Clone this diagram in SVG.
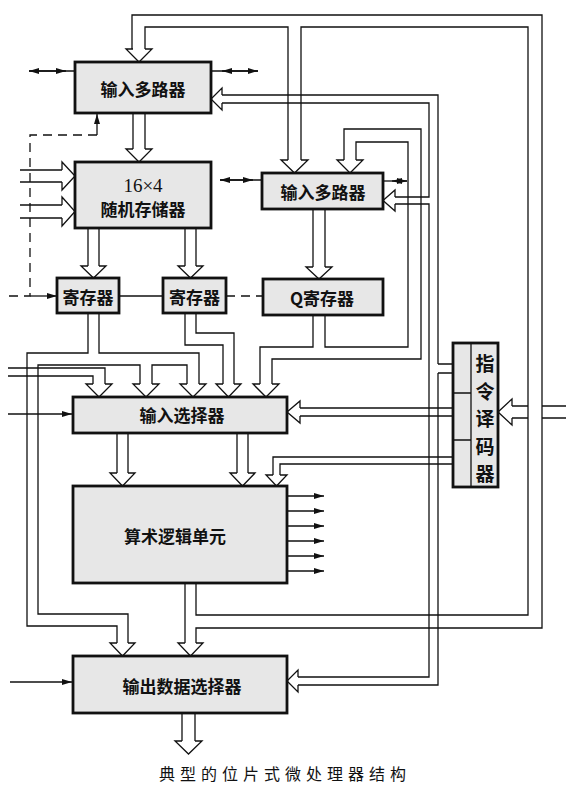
<svg xmlns="http://www.w3.org/2000/svg" width="574" height="800" viewBox="0 0 574 800">
<style>
.box{fill:#e7e7e7;stroke:#111;stroke-width:2.8}
.w{fill:none;stroke:#111;stroke-width:1.3}
.h{fill:#fff;stroke:#111;stroke-width:1.3;stroke-linejoin:miter}
.d{fill:none;stroke:#111;stroke-width:1.3;stroke-dasharray:9 6}
.t{font-family:"Noto Sans CJK SC","Noto Sans",sans-serif;font-size:17px;font-weight:bold;fill:#111;text-anchor:middle;dominant-baseline:central}
.v{font-family:"Noto Sans CJK SC","Noto Sans",sans-serif;font-size:19px;font-weight:bold;fill:#111;text-anchor:middle;dominant-baseline:central}
.s{font-family:"Liberation Serif",serif;font-size:19px;fill:#111;text-anchor:middle;dominant-baseline:central}
.cap{font-family:"Noto Sans CJK SC",sans-serif;font-size:16px;fill:#111;text-anchor:middle;dominant-baseline:central;letter-spacing:5px}
</style>
<defs>
<marker id="ah" markerUnits="userSpaceOnUse" markerWidth="10" markerHeight="6" refX="10" refY="3" orient="auto"><path d="M0,0 L10,3 L0,6 z" fill="#111"/></marker>
</defs>
<rect width="574" height="800" fill="#fff"/>

<g id="connectors">
<!-- ALU loop bus -->
<path class="w" d="M132 49 V15 H542 V628 H196 V643"/>
<path class="w" d="M145 49 V27 H288 V160"/>
<path class="w" d="M301 160 V27 H528 V615 H196 V583"/>
<path class="w" d="M185 583 V643"/>
<!-- top mux -> RAM -->
<path class="w" d="M133 113 V149 M145 113 V149"/>
<!-- RAM -> registers -->
<path class="w" d="M88 228 V266 M99 228 V266 M185 228 V266 M196 228 V266"/>
<!-- mux2 -> Q -->
<path class="w" d="M313 209 V267 M325 209 V267"/>
<!-- decoder top bus -->
<path class="w" d="M222 95 H438 V364 M438 373 V685 H298"/>
<path class="w" d="M222 103 H429 V197 H395 M395 204 H429 V677 H298"/>
<path class="w" d="M438 364 H453 M438 373 H453"/>
<!-- decoder -> input selector -->
<path class="w" d="M300 408 H453 M300 416 H453"/>
<!-- decoder -> ALU -->
<path class="w" d="M453 457 H273 V475 M453 464 H280 V475"/>
<!-- instruction input -->
<path class="w" d="M512 406 H528 M512 418 H528 M542 406 H566 M542 418 H566"/>
<!-- Q bus -->
<path class="w" d="M313 315 V347 H260 V384"/>
<path class="w" d="M325 315 V347 H408 V142 H356 V160"/>
<path class="w" d="M344 160 V129 H421 V359 H272 V384"/>
<!-- reg1 bus -->
<path class="w" d="M88 313 V353 H27 V626 H117 V643"/>
<path class="w" d="M99 313 V353 H199 V384"/>
<path class="w" d="M187 384 V365 H152 V384"/>
<path class="w" d="M140 384 V365 H38 V614 H128 V643"/>
<!-- reg2 bus -->
<path class="w" d="M185 313 V345 H223 V384"/>
<path class="w" d="M196 313 V333 H234 V384"/>
<!-- A1 from left -->
<path class="w" d="M8 368 H105 V384 M8 376 H93 V384"/>
<!-- input selector -> ALU -->
<path class="w" d="M117 433 V473 M128 433 V473 M237 433 V473 M248 433 V473"/>
<!-- output selector bottom -->
<path class="w" d="M182 713 V741 M195 713 V741"/>
<!-- RAM left inputs -->
<path class="w" d="M20 170 H62 M20 182 H62 M20 205 H62 M20 218 H62"/>

<!-- hollow heads -->
<path class="h" d="M133 49 H126 L139 62 L152 49 H145"/>
<path class="h" d="M133 149 H126 L139 162 L152 149 H145"/>
<path class="h" d="M88 266 H81 L93.5 278 L106 266 H99"/>
<path class="h" d="M185 266 H178 L190.5 278 L203 266 H196"/>
<path class="h" d="M288 160 H281 L294.5 173 L308 160 H301"/>
<path class="h" d="M344 160 H337 L350 173 L363 160 H356"/>
<path class="h" d="M313 267 H306 L319 279 L332 267 H325"/>
<path class="h" d="M93 384 H86 L99 397 L112 384 H105"/>
<path class="h" d="M140 384 H133 L146 397 L159 384 H152"/>
<path class="h" d="M187 384 H180 L193 397 L206 384 H199"/>
<path class="h" d="M223 384 H216 L228.5 397 L241 384 H234"/>
<path class="h" d="M260 384 H253 L266 397 L279 384 H272"/>
<path class="h" d="M117 473 H110 L122.5 486 L135 473 H128"/>
<path class="h" d="M237 473 H230 L242.5 486 L255 473 H248"/>
<path class="h" d="M273 475 H266 L276.5 486 L287 475 H280"/>
<path class="h" d="M117 643 H110 L122.5 656 L135 643 H128"/>
<path class="h" d="M185 643 H178 L190.5 656 L203 643 H196"/>
<path class="h" d="M182 741 H175 L188.5 754 L202 741 H195"/>
<path class="h" d="M222 95 V88 L211 99 L222 110 V103"/>
<path class="h" d="M395 197 V190 L383 200.5 L395 211 V204"/>
<path class="h" d="M300 408 V401 L287 412 L300 423 V416"/>
<path class="h" d="M298 677 V670 L287 681 L298 692 V685"/>
<path class="h" d="M512 406 V399 L498 412 L512 425 V418"/>
<path class="h" d="M62 170 V162 L75 176 L62 190 V182"/>
<path class="h" d="M62 205 V197 L75 211.5 L62 226 V218"/>

<!-- thin signal lines -->
<line class="w" x1="75" y1="71" x2="29" y2="71" marker-end="url(#ah)"/>
<line class="w" x1="29" y1="71" x2="66" y2="71" marker-end="url(#ah)"/>
<line class="w" x1="258" y1="71" x2="222" y2="71" marker-end="url(#ah)"/>
<line class="w" x1="211" y1="71" x2="258" y2="71" marker-end="url(#ah)"/>
<line class="w" x1="262" y1="180" x2="220" y2="180" marker-end="url(#ah)"/>
<line class="w" x1="220" y1="180" x2="253" y2="180" marker-end="url(#ah)"/>
<line class="w" x1="407" y1="181" x2="392" y2="181" marker-end="url(#ah)"/>
<line class="w" x1="383" y1="181" x2="407" y2="181" marker-end="url(#ah)"/>
<path class="d" d="M97 135 H30 V296 H3"/>
<line class="w" x1="97" y1="135" x2="97" y2="114" marker-end="url(#ah)"/>
<line class="w" x1="30" y1="296" x2="57" y2="296" marker-end="url(#ah)"/>
<line class="w" x1="119" y1="296" x2="163" y2="296"/>
<line class="d" x1="226" y1="296" x2="263" y2="296"/>
<line class="w" x1="8" y1="414" x2="72" y2="414" marker-end="url(#ah)"/>
<line class="w" x1="10" y1="682" x2="72" y2="682" marker-end="url(#ah)"/>
<line class="w" x1="287" y1="496" x2="324" y2="496" marker-end="url(#ah)"/>
<line class="w" x1="287" y1="511" x2="324" y2="511" marker-end="url(#ah)"/>
<line class="w" x1="287" y1="526" x2="324" y2="526" marker-end="url(#ah)"/>
<line class="w" x1="287" y1="541" x2="324" y2="541" marker-end="url(#ah)"/>
<line class="w" x1="287" y1="556" x2="324" y2="556" marker-end="url(#ah)"/>
<line class="w" x1="287" y1="571" x2="324" y2="571" marker-end="url(#ah)"/>
</g>

<g id="mux-top"><rect class="box" x="75" y="62" width="136" height="51"/><text class="t" x="143" y="88">输入多路器</text></g>
<g id="ram"><rect class="box" x="75" y="162" width="136" height="66"/><text class="s" x="143" y="185">16×4</text><text class="t" x="143" y="208">随机存储器</text></g>
<g id="mux2"><rect class="box" x="262" y="173" width="121" height="36"/><text class="t" x="323" y="191">输入多路器</text></g>
<g id="reg1"><rect class="box" x="57" y="278" width="62" height="35"/><text class="t" x="88" y="296">寄存器</text></g>
<g id="reg2"><rect class="box" x="163" y="278" width="63" height="35"/><text class="t" x="194.5" y="296">寄存器</text></g>
<g id="qreg"><rect class="box" x="263" y="279" width="120" height="36"/><text class="t" x="322" y="297">Q寄存器</text></g>
<g id="input-selector"><rect class="box" x="73" y="397" width="214" height="36"/><text class="t" x="182" y="414">输入选择器</text></g>
<g id="alu"><rect class="box" x="73" y="486" width="214" height="97"/><text class="t" x="175" y="535">算术逻辑单元</text></g>
<g id="output-selector"><rect class="box" x="73" y="656" width="214" height="57"/><text class="t" x="182" y="685">输出数据选择器</text></g>
<g id="decoder"><rect class="box" x="453" y="343" width="45" height="144"/>
<path class="w" d="M471 343 V487 M453 393 H471 M453 440 H471" stroke-width="1.5"/>
<text class="v" x="485" y="362">指</text><text class="v" x="485" y="390">令</text><text class="v" x="485" y="417">译</text><text class="v" x="485" y="445">码</text><text class="v" x="485" y="472">器</text></g>

<text class="cap" x="285" y="773">典型的位片式微处理器结构</text>
</svg>
